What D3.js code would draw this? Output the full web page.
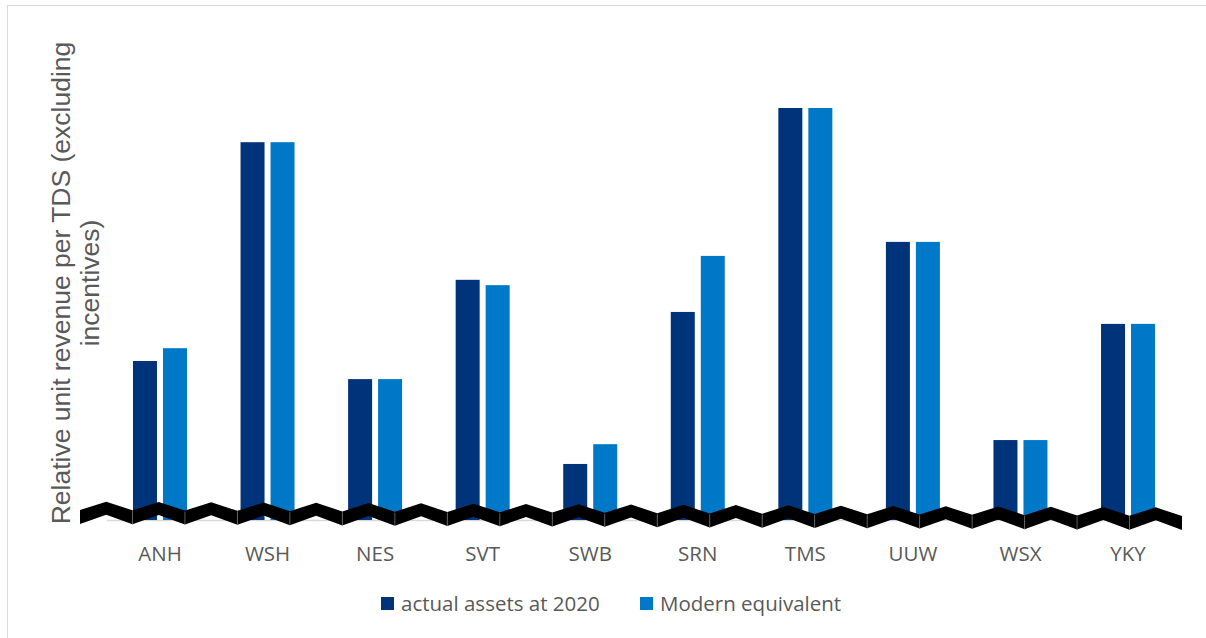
<!DOCTYPE html>
<html>
<head>
<meta charset="utf-8">
<script src="https://cdn.jsdelivr.net/npm/d3@7/dist/d3.min.js"></script>
<style>
  html, body { margin: 0; padding: 0; background: #ffffff; }
  svg { display: block; }
</style>
</head>
<body>
<svg id="chart" width="1206" height="638"></svg>
<script>
// ---- Data ----
const categories = ["ANH", "WSH", "NES", "SVT", "SWB", "SRN", "TMS", "UUW", "WSX", "YKY"];
const seriesNames = ["actual assets at 2020", "Modern equivalent"];
const actualAssets = [38.6, 91.7, 34.2, 58.3, 13.6, 50.5, 100, 67.5, 19.4, 47.6];
const modernEquivalent = [41.7, 91.7, 34.2, 57.0, 18.4, 64.1, 100, 67.5, 19.4, 47.6];
const yAxisTitle = ["Relative unit revenue per TDS (excluding", "incentives)"];
const breakSegments = 21; // number of chevrons in the axis-break band

// ---- Layout ----
const svg = d3.select("#chart");
const colors = ["#00347a", "#0078c8"];
const textColor = "#595959";
const labelFont = "'Open Sans', Lato, sans-serif";

// frame
svg.append("rect").attr("x", 7.5).attr("y", 5.5).attr("width", 1300).attr("height", 800)
  .attr("fill", "none").attr("stroke", "#d9d9d9").attr("stroke-width", 1);

const baseY = 520;
const x0 = d3.scaleBand().domain(categories).range([106.2, 1181.8]).paddingInner(0.498).paddingOuter(0.249);
const x1 = d3.scaleBand().domain(seriesNames).range([0, x0.bandwidth()]).paddingInner(0.2);
const y = d3.scaleLinear().domain([0, 100]).range([baseY, 108]);

const data = categories.map((c, i) => ({ cat: c, vals: [actualAssets[i], modernEquivalent[i]] }));

// baseline axis
const xAxis = d3.axisBottom(x0).tickSize(0).tickPadding(0);
const gx = svg.append("g").attr("transform", `translate(0,${baseY})`).call(xAxis);
gx.select(".domain").attr("stroke", "#d9d9d9").attr("stroke-width", 1.3);
gx.selectAll(".tick text")
  .attr("dy", 0).attr("y", 41)
  .attr("fill", textColor)
  .style("font-family", labelFont)
  .style("font-size", "20.5px");

// bars
const groups = svg.append("g").selectAll("g").data(data).join("g")
  .attr("transform", d => `translate(${x0(d.cat)},0)`);
groups.selectAll("rect")
  .data(d => d.vals.map((v, k) => ({ key: seriesNames[k], v, k })))
  .join("rect")
  .attr("x", d => x1(d.key))
  .attr("width", x1.bandwidth())
  .attr("y", d => y(d.v))
  .attr("height", d => baseY - y(d.v))
  .attr("fill", d => colors[d.k]);

// axis break zigzag band
const zx = d3.scaleLinear().domain([0, breakSegments]).range([80, 1182]);
const valleyTop = t => 510 + 6 * t / breakSegments;
const amp = 8.5, thick = 14;
const zg = svg.append("g");
d3.range(breakSegments).forEach(i => {
  const xa = zx(i), xm = zx(i + 0.5), xb = zx(i + 1);
  const ya = valleyTop(i), ym = valleyTop(i + 0.5) - amp, yb = valleyTop(i + 1);
  const pts = [[xa, ya], [xm, ym], [xb, yb], [xb, yb + thick], [xm, ym + thick - 1], [xa, ya + thick]];
  zg.append("polygon").attr("points", pts.map(p => p.join(",")).join(" ")).attr("fill", "#000");
});
d3.range(1, breakSegments).forEach(i => {
  const xv = zx(i), yv = valleyTop(i);
  zg.append("line").attr("x1", xv).attr("x2", xv).attr("y1", yv + 1).attr("y2", yv + thick)
    .attr("stroke", "#6e6e6e").attr("stroke-width", 0.8);
});

// y axis title
const yt = svg.append("text")
  .attr("transform", "rotate(-90)")
  .attr("fill", textColor)
  .attr("text-anchor", "middle")
  .style("font-family", "'Liberation Sans', Arial, sans-serif")
  .style("font-size", "26.5px");
yt.selectAll("tspan").data(yAxisTitle).join("tspan")
  .attr("x", -283)
  .attr("y", (d, i) => 70 + i * 29)
  .text(d => d);

// legend
const legendX = [381, 640];
const lg = svg.append("g");
seriesNames.forEach((s, i) => {
  lg.append("rect").attr("x", legendX[i]).attr("y", 597).attr("width", 13).attr("height", 13).attr("fill", colors[i]);
  lg.append("text").attr("x", legendX[i] + 20).attr("y", 611)
    .attr("fill", textColor)
    .style("font-family", labelFont)
    .style("font-size", "20.5px")
    .text(s);
});
</script>
</body>
</html>
